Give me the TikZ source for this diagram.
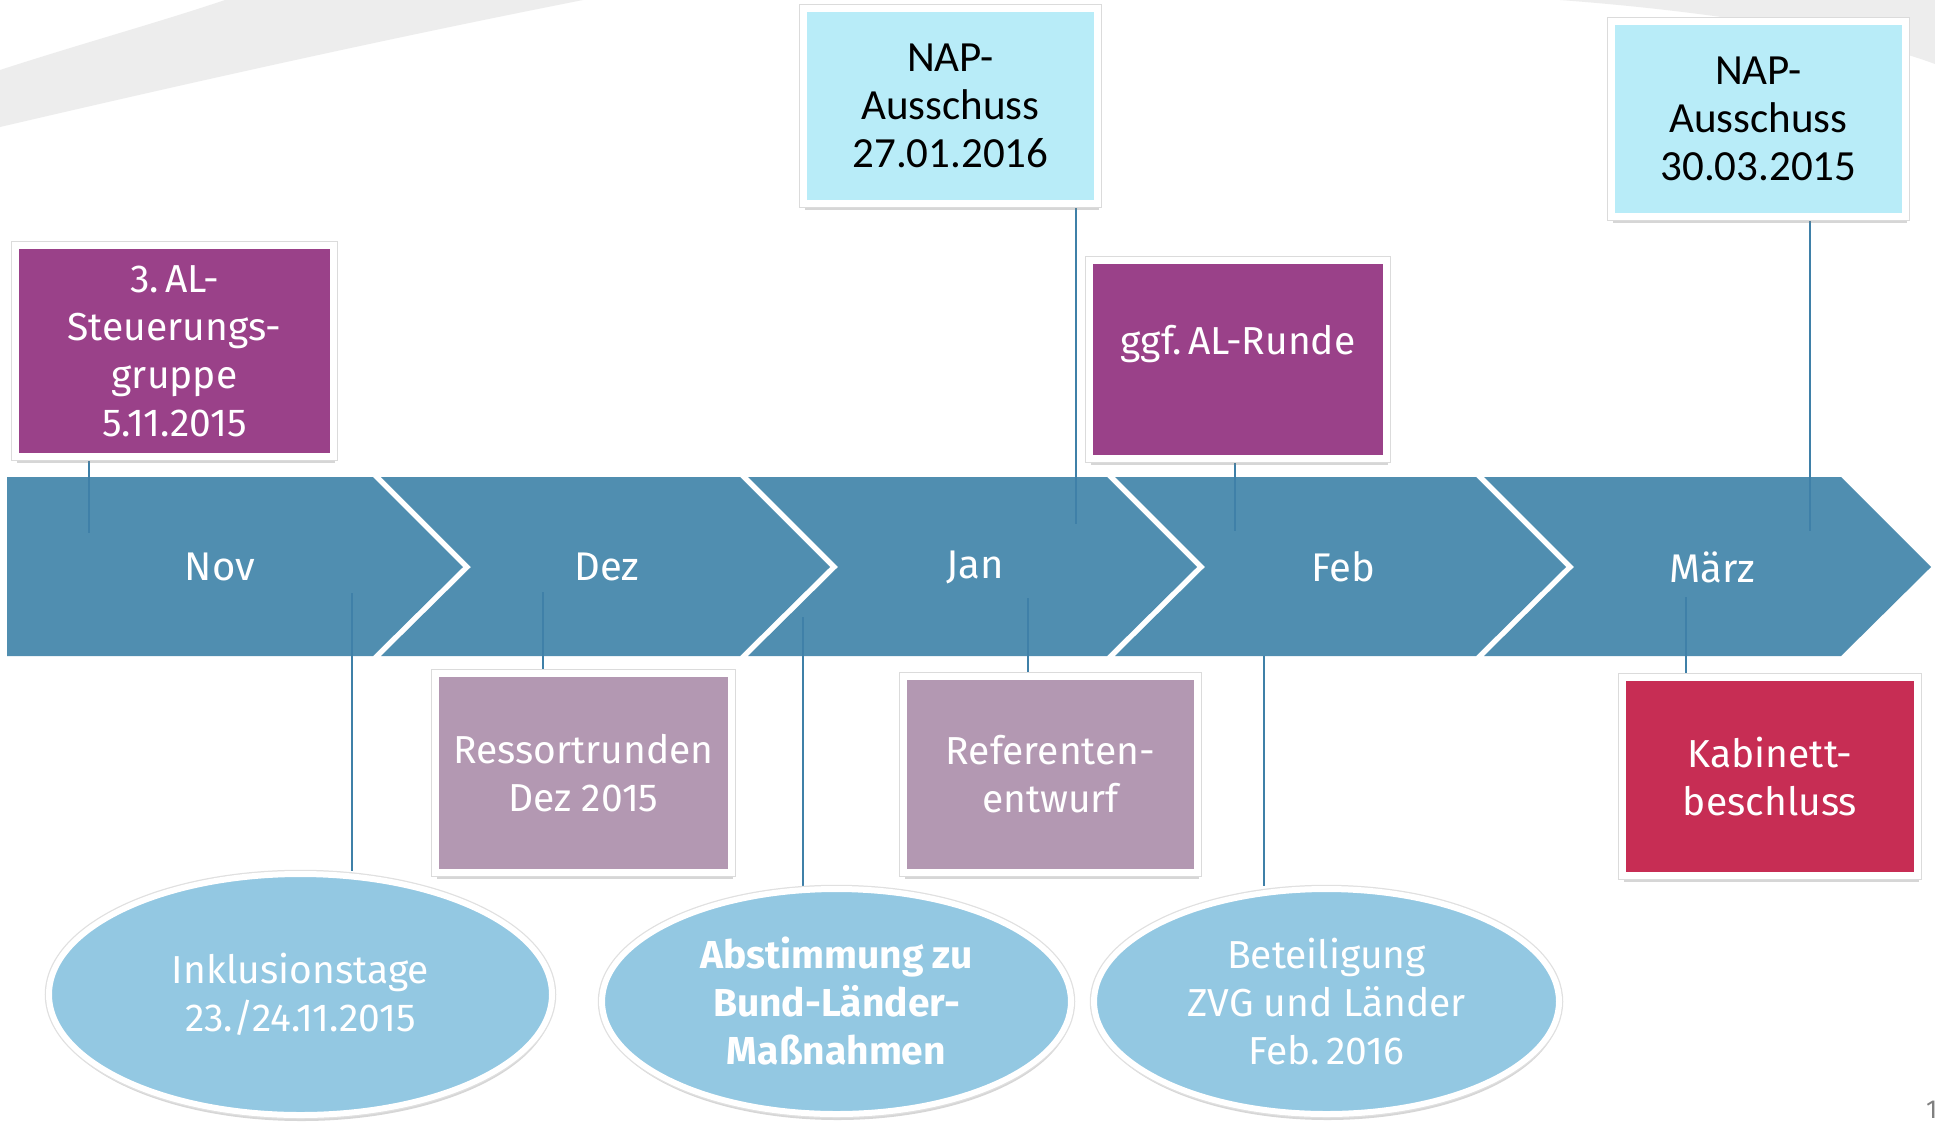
\documentclass[tikz,border=0pt]{standalone}
\usepackage{fontspec}
\setmainfont{Fira Sans}
\newfontfamily\napfont{Carlito}
\usetikzlibrary{shapes.geometric,shadows}
\pgfdeclarelayer{bg}
\pgfdeclarelayer{mid}
\pgfsetlayers{bg,mid,main}
\definecolor{bandblue}{HTML}{508EB0}
\definecolor{connblue}{HTML}{3F80A8}
\definecolor{alpurple}{HTML}{9A4189}
\definecolor{mauve}{HTML}{B398B2}
\definecolor{crimson}{HTML}{C72D54}
\definecolor{napcyan}{HTML}{B8ECF8}
\definecolor{ellblue}{HTML}{93C8E2}
\definecolor{swoosh}{HTML}{EDEDED}
\tikzset{
  boxbase/.style={rectangle, draw=white, line width=7pt, align=center, inner sep=0pt,
    drop shadow={shadow xshift=1.5pt, shadow yshift=-6pt, opacity=0.32},
    preaction={draw=black!14, line width=9.5pt}},
  wbox/.style={boxbase, text=white, font=\fontsize{39}{48}\selectfont},
  napbox/.style={boxbase, fill=napcyan, text=black, font=\napfont\fontsize{43}{48}\selectfont,
    minimum width=294pt, minimum height=195pt},
  ellnode/.style={ellipse, fill=ellblue, draw=white, line width=6pt, align=center, inner sep=0pt,
    text=white, font=\fontsize{39}{48}\selectfont,
    drop shadow={shadow xshift=1pt, shadow yshift=-6pt, opacity=0.32},
    preaction={draw=black!12, line width=8.5pt}},
  month/.style={text=white, font=\fontsize{40}{48}\selectfont},
  conn/.style={draw=connblue, line width=2pt},
  segfill/.style={fill=bandblue}
}
\begin{document}
\begin{tikzpicture}[x=1pt,y=-1pt]
\useasboundingbox (0,0) rectangle (1935,1122);

\begin{pgfonlayer}{bg}
  \fill[white] (0,0) rectangle (1935,1122);
  \fill[swoosh] (0,70) .. controls (80,44) and (160,22) .. (225,0) -- (583,0)
     .. controls (380,40) and (180,85) .. (0,127) -- cycle;
  \fill[swoosh] (1560,0) .. controls (1720,12) and (1860,36) .. (1935,64) -- (1935,0) -- cycle;
  % timeline chevrons
  \path[segfill] (7,477) -- (373,477) -- (463,567) -- (373,656) -- (7,656) -- cycle;
  \path[segfill] (381,477) -- (740,477) -- (830,567) -- (740,656) -- (381,656) -- (471,567) -- cycle;
  \path[segfill] (748,477) -- (1107,477) -- (1197,567) -- (1107,656) -- (748,656) -- (838,567) -- cycle;
  \path[segfill] (1115,477) -- (1476,477) -- (1566,567) -- (1476,656) -- (1115,656) -- (1205,567) -- cycle;
  \path[segfill] (1484,477) -- (1841,477) -- (1931,567) -- (1841,656) -- (1484,656) -- (1574,567) -- cycle;
\end{pgfonlayer}

% month labels
\node[month] (mNov) at (220,567) {Nov};
\node[month] (mDez) at (607,567) {Dez};
\node[month] (mJan) at (975,567) {Jan};
\node[month] (mFeb) at (1343,567) {Feb};
\node[month] (mMar) at (1712,567) {März};

% upper boxes
\node[wbox, fill=alpurple, minimum width=318pt, minimum height=211pt] (al3) at (174.5,351)
  {3.\,AL-\\Steuerungs-\\gruppe\\5.11.2015};
\node[napbox] (nap1) at (950.5,106) {NAP-\\Ausschuss\\27.01.2016};
\node[napbox] (nap2) at (1758.5,119) {NAP-\\Ausschuss\\30.03.2015};
\node[wbox, fill=alpurple, minimum width=297pt, minimum height=198pt] (ggf) at (1238,359.5)
  {ggf.\,AL-Runde\\[-24pt]\strut};

% lower boxes
\node[wbox, fill=mauve, minimum width=296pt, minimum height=199pt] (ress) at (583.5,773)
  {Ressortrunden\\Dez 2015};
\node[wbox, fill=mauve, minimum width=294pt, minimum height=196pt] (ref) at (1050.5,774.5)
  {Referenten-\\entwurf};
\node[wbox, fill=crimson, minimum width=295pt, minimum height=198pt] (kab) at (1770,776.5)
  {Kabinett-\\beschluss};

% ellipses
\node[ellnode, minimum width=503pt, minimum height=241pt] (ink) at (300.5,994.5)
  {Inklusionstage\\23./24.11.2015};
\node[ellnode, minimum width=469pt, minimum height=225pt, font=\bfseries\fontsize{39}{48}\selectfont] (abst) at (836.5,1001.5)
  {Abstimmung zu\\Bund-Länder-\\Maßnahmen};
\node[ellnode, minimum width=465pt, minimum height=225pt] (bet) at (1326.5,1001.5)
  {Beteiligung\\ZVG und Länder\\Feb.\,2016};

% page number
\node[text=gray, font=\fontsize{26}{30}\selectfont, anchor=base west, inner sep=0pt] (pg) at (1926,1118) {1};

% connector end points
\coordinate (cAL) at (89,533);
\coordinate (cN1) at (1076,524);
\coordinate (cN2) at (1810,531);
\coordinate (cGG) at (1235,531);
\coordinate (cRS) at (543,592);
\coordinate (cRF) at (1028,598);
\coordinate (cKB) at (1686,597);
\coordinate (cIN) at (352,593);
\coordinate (cAB) at (803,617);
\coordinate (cBT) at (1264,656);

\begin{pgfonlayer}{mid}
  \draw[conn] (al3.south -| cAL) -- (cAL);
  \draw[conn] (nap1.south -| cN1) -- (cN1);
  \draw[conn] (nap2.south -| cN2) -- (cN2);
  \draw[conn] (ggf.south -| cGG) -- (cGG);
  \draw[conn] (cRS) -- (ress.north -| cRS);
  \draw[conn] (cRF) -- (ref.north -| cRF);
  \draw[conn] (cKB) -- (kab.north -| cKB);
  \draw[conn] (cIN) -- (ink.north -| cIN);
  \draw[conn] (cAB) -- (abst.north -| cAB);
  \draw[conn] (cBT) -- (bet.north -| cBT);
\end{pgfonlayer}
\end{tikzpicture}
\end{document}
